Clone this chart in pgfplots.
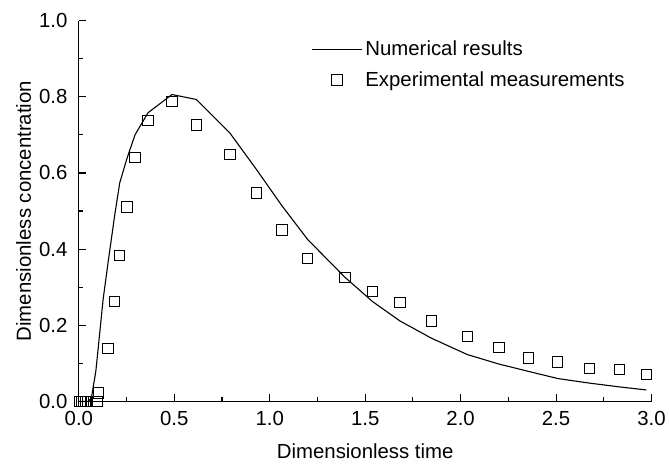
\documentclass[border=0pt]{standalone}
\usepackage{fontspec}
\setmainfont{Liberation Sans}
\usepackage{pgfplots}
\pgfplotsset{compat=1.18}
\usetikzlibrary{calc}
\newcommand{\chartfont}{\fontsize{20.4}{24.5}\selectfont}
\pgfplotsset{
  lineleg/.style={legend image code/.code={\draw[##1] (0pt,0pt) -- (50pt,0pt);}},
  markleg/.style={legend image code/.code={\draw[##1] plot coordinates {(25pt,0pt)};}},
}
\begin{document}
\begin{tikzpicture}
\begin{axis}[
  scale only axis, width=573.5pt, height=381.3pt,
  xmin=0, xmax=3, ymin=0, ymax=1,
  axis lines*=left,
  axis line style={line width=1.2pt, black},
  tick align=inside,
  major tick length=7pt, minor tick length=4.5pt,
  every tick/.style={line width=1.1pt, black},
  xtick={0,0.5,1,1.5,2,2.5,3}, ytick={0,0.2,0.4,0.6,0.8,1},
  minor x tick num=1, minor y tick num=1,
  /pgf/number format/.cd, fixed, fixed zerofill, precision=1, assume math mode=true,
  /pgfplots/.cd,
  tick label style={font=\chartfont, black},
  xticklabel style={yshift=-6.5pt},
  yticklabel style={xshift=-8pt},
  label style={font=\chartfont},
  xlabel={Dimensionless time},
  ylabel={Dimensionless concentration},
  xlabel style={at={([yshift=-57pt]axis description cs:0.5,0)}, anchor=base},
  ylabel style={at={([xshift=-48pt]axis description cs:0,0.5)}, anchor=base},
  clip=false,
  legend style={draw=none, fill=none, font=\chartfont, at={(axis cs:1.217,0.955)}, anchor=north west, inner sep=0pt, row sep=8.5pt, nodes={inner sep=3pt}},
  legend cell align=left,
]
\coordinate (O) at (axis cs:0,0);
\addplot[black, line width=1.1pt, mark=none, lineleg]
 coordinates {
 (0,0) (0.05,0) (0.066,0.01) (0.089,0.08) (0.10,0.134) (0.127,0.268) (0.153,0.365)
 (0.188,0.49) (0.214,0.574) (0.253,0.64) (0.294,0.70) (0.362,0.758) (0.488,0.806)
 (0.615,0.793) (0.791,0.705) (0.929,0.61) (1.065,0.513) (1.199,0.425) (1.394,0.326)
 (1.539,0.262) (1.683,0.211) (1.847,0.166) (2.035,0.123) (2.201,0.098) (2.354,0.079)
 (2.509,0.060) (2.675,0.048) (2.833,0.038) (2.973,0.030)
 };
\addlegendentry{Numerical results}
\addplot[only marks, black, mark=square, mark size=5.2pt, mark options={line width=1pt, fill=none}, markleg]
 coordinates {
 (0.005,0) (0.015,0) (0.025,0) (0.035,0) (0.045,0) (0.095,0) (0.103,0.022)
 (0.153,0.139) (0.188,0.263) (0.214,0.383) (0.253,0.511) (0.294,0.640) (0.362,0.737)
 (0.488,0.787) (0.615,0.726) (0.791,0.648) (0.929,0.547) (1.065,0.450) (1.199,0.376)
 (1.394,0.326) (1.539,0.289) (1.683,0.259) (1.847,0.211) (2.035,0.170) (2.201,0.141)
 (2.354,0.114) (2.509,0.103) (2.675,0.087) (2.833,0.084) (2.973,0.070)
 };
\addlegendentry{Experimental measurements}
\end{axis}
\useasboundingbox ($(O)+(-79pt,-63pt)$) rectangle ($(O)+(590pt,402pt)$);
\end{tikzpicture}
\end{document}
